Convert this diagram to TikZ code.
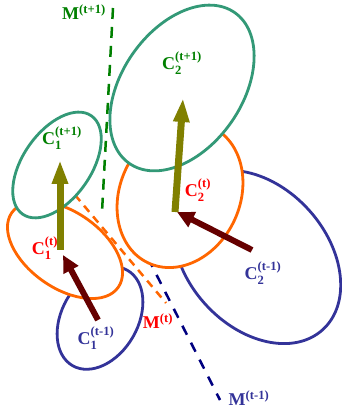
\documentclass[tikz,border=0pt]{standalone}
\usepackage{amsmath}
\usepackage{fontspec}
\setmainfont{Liberation Serif}
\usepackage{xcolor}
\usepackage{tikz}
\usetikzlibrary{arrows.meta}

\definecolor{clgreen}{HTML}{339977}
\definecolor{clorange}{HTML}{FF6600}
\definecolor{clblue}{HTML}{333399}
\definecolor{txgreen}{HTML}{008000}
\definecolor{txred}{HTML}{FF0000}
\definecolor{txblue}{HTML}{333399}
\definecolor{mnavy}{HTML}{000080}
\definecolor{olivearr}{HTML}{808000}
\definecolor{maroonarr}{HTML}{660000}

\newcommand{\clab}[3]{#1$_{\text{#2}}^{\text{#3}}$}

\begin{document}
\begin{tikzpicture}[
		x=1pt, y=1pt,
		cluster/.style={line width=2.8pt, fill=white},
		mline/.style={line width=2.5pt},
		motion/.style={line width=7pt, olivearr, -{Triangle[length=24pt, width=15pt]}},
		match/.style={line width=6pt, maroonarr, -{Triangle[length=17pt, width=16pt]}},
		lab/.style={font=\fontsize{18}{18}\selectfont\bfseries, inner sep=0pt}
		]
		\useasboundingbox (0,0) rectangle (342,417);
		
		% Centres of the clusters
		\coordinate (c1prev) at (100,99);
		\coordinate (c2prev) at (257,160);
		\coordinate (c1now) at (65,167);
		\coordinate (c2now) at (180,222);
		\coordinate (c1next) at (57,252);
		\coordinate (c2next) at (182,329);
		
		% Model lines
		\coordinate (mnexttop) at (113,409);
		\coordinate (mnextbot) at (102,205);
		\coordinate (mnowtop) at (75,222);
		\coordinate (mnowbot) at (166,114);
		\coordinate (mprevtop) at (148,159);
		\coordinate (mprevbot) at (220,17);
		\draw[mline, txgreen, dash pattern=on 11pt off 8pt] (mnexttop) -- (mnextbot);
		\draw[mline, clorange, dash pattern=on 8pt off 6pt] (mnowtop) -- (mnowbot);
		\draw[mline, mnavy, dash pattern=on 10pt off 9pt] (mprevtop) -- (mprevbot);
		
		% Clusters at t-1
		\draw[cluster, draw=clblue, rotate around={60:(c1prev)}] (c1prev) ellipse [x radius=55, y radius=38];
		\draw[cluster, draw=clblue, rotate around={-48:(c2prev)}] (c2prev) ellipse [x radius=98, y radius=70];
		
		% Clusters at t
		\draw[cluster, draw=clorange, rotate around={-35:(c1now)}] (c1now) ellipse [x radius=65, y radius=38];
		\draw[cluster, draw=clorange, rotate around={65:(c2now)}] (c2now) ellipse [x radius=75, y radius=60];
		
		% Clusters at t+1
		\draw[cluster, draw=clgreen, rotate around={55:(c1next)}] (c1next) ellipse [x radius=60, y radius=34];
		\draw[cluster, draw=clgreen, rotate around={55:(c2next)}] (c2next) ellipse [x radius=92, y radius=60];
		
		% Arrow ends
		\coordinate (a1prev) at (98,97);
		\coordinate (a1now) at (63,162);
		\coordinate (a2prev) at (252,167);
		\coordinate (a2now) at (177,205);
		\coordinate (b1now) at (60,167);
		\coordinate (b1next) at (60,257);
		\coordinate (b2now) at (175,205);
		\coordinate (b2next) at (183,319);
		
		\draw[match] (a1prev) -- (a1now);
		\draw[match] (a2prev) -- (a2now);
		\draw[motion] (b1now) -- (b1next);
		\draw[motion] (b2now) -- (b2next);
		
		% Labels
		\node[lab, txgreen] (lmnext) at (84,403) {\clab{M}{}{(t+1)}};
		\node[lab, txgreen] (lc2next) at (182,354) {\clab{C}{2}{(t+1)}};
		\node[lab, txgreen] (lc1next) at (62,279) {\clab{C}{1}{(t+1)}};
		\node[lab, txred] (lc2now) at (198,227) {\clab{C}{2}{(t)}};
		\node[lab, txred] (lc1now) at (45,169) {\clab{C}{1}{(t)}};
		\node[lab, txred] (lmnow) at (158,94) {\clab{M}{}{(t)}};
		\node[lab, txblue] (lc1prev) at (96,79) {\clab{C}{1}{(t-1)}};
		\node[lab, txblue] (lc2prev) at (263,144) {\clab{C}{2}{(t-1)}};
		\node[lab, txblue] (lmprev) at (249,17) {\clab{M}{}{(t-1)}};
		
	\end{tikzpicture}
\end{document}
